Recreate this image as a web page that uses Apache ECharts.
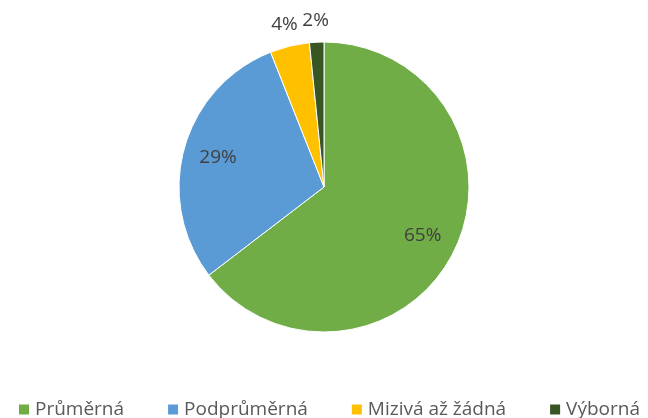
<!DOCTYPE html>
<html>
<head>
<meta charset="utf-8">
<script src="https://cdn.jsdelivr.net/npm/echarts@6/dist/echarts.min.js"></script>
<style>
html,body{margin:0;padding:0;background:#fff;}
#c{width:648px;height:418px;}
</style>
</head>
<body>
<div id="c"></div>
<script>
const categories = ['Průměrná', 'Podprůměrná', 'Mizivá až žádná', 'Výborná'];
const values = [64.6, 29.4, 4.4, 1.6];
const colors = ['#70AD47', '#5B9BD5', '#FFC000', '#375623'];
const insideLabelled = [true, true, false, false];

const chart = echarts.init(document.getElementById('c'), null, {renderer: 'canvas'});
const center = [324, 187];
const font = '"Open Sans", "Noto Sans", sans-serif';

function mkData(filterFn) {
  return categories.map((name, i) => ({
    name: name,
    value: values[i],
    itemStyle: {color: 'rgba(0,0,0,0)'},
    label: {show: filterFn(i)}
  }));
}

const labelStyle = {
  position: 'inside',
  formatter: '{d}%',
  color: '#404040',
  fontSize: 19,
  fontFamily: font
};

chart.setOption({
  backgroundColor: '#fff',
  animation: false,
  legend: {
    data: categories,
    left: 12,
    top: 395,
    itemWidth: 12,
    itemHeight: 12,
    itemGap: 42,
    icon: 'rect',
    textStyle: {color: '#595959', fontSize: 19, fontFamily: font},
    selectedMode: false
  },
  series: [
    {
      type: 'pie',
      center: center,
      radius: [0, 145],
      startAngle: 90,
      clockwise: true,
      avoidLabelOverlap: false,
      silent: true,
      percentPrecision: 0,
      label: {show: false},
      labelLine: {show: false},
      itemStyle: {borderColor: '#fff', borderWidth: 1},
      data: categories.map((name, i) => ({name: name, value: values[i], itemStyle: {color: colors[i]}}))
    },
    {
      type: 'pie',
      center: center,
      radius: [0, 214],
      startAngle: 90,
      clockwise: true,
      avoidLabelOverlap: false,
      silent: true,
      percentPrecision: 0,
      label: labelStyle,
      labelLine: {show: false},
      data: mkData(i => insideLabelled[i])
    },
    {
      type: 'pie',
      center: center,
      radius: [0, 328],
      startAngle: 90,
      clockwise: true,
      avoidLabelOverlap: false,
      silent: true,
      percentPrecision: 0,
      label: labelStyle,
      labelLine: {show: false},
      data: mkData(i => !insideLabelled[i])
    }
  ]
});
</script>
</body>
</html>
